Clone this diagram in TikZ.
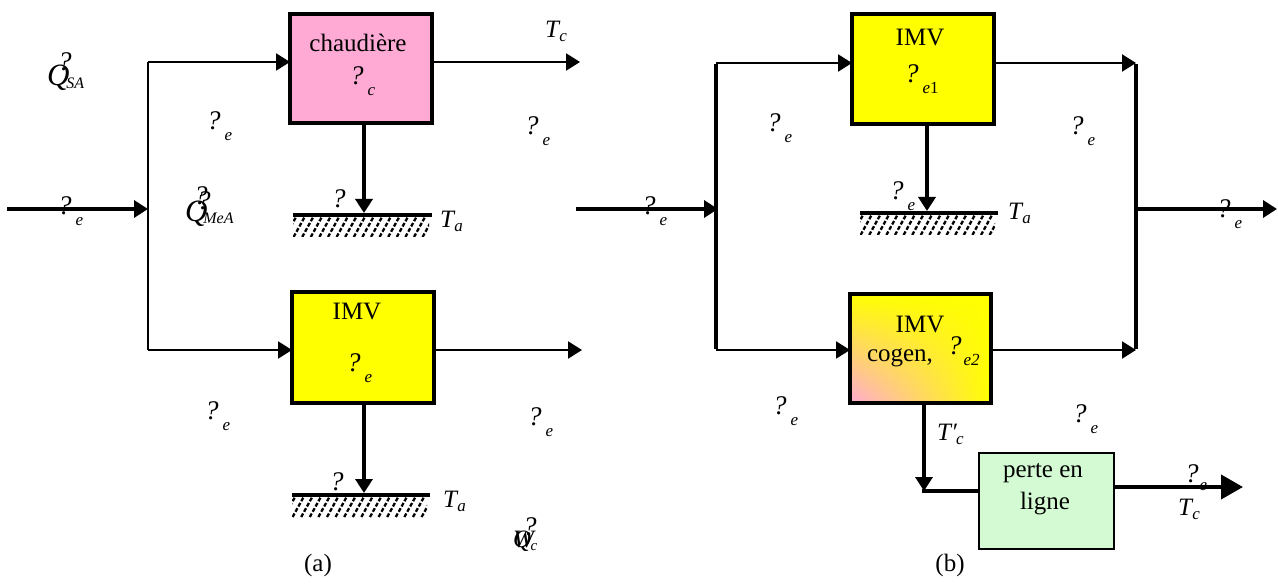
\documentclass[tikz,border=0pt]{standalone}
\usepackage{fontspec}
\setmainfont{Liberation Serif}
\usetikzlibrary{arrows.meta,shadings}
\definecolor{pinkc}{RGB}{255,170,212}
\definecolor{yelc}{RGB}{255,255,0}
\definecolor{greenc}{RGB}{212,250,212}
\newcommand{\qmk}{{\fontsize{27}{28}\selectfont\textit{?}}}
\newcommand{\qe}[1]{\qmk\kern4pt\raisebox{-11pt}{\fontsize{17}{17}\selectfont\textit{#1}}}
\newcommand{\subsz}{\fontsize{17}{17}\selectfont}
\newcommand{\groundhatch}[3]{%
  \draw[line width=4pt] (#1,#3) -- (#2,#3);
  \begin{scope}
    \clip (#1,#3+2) rectangle (#2-3,#3+22);
    \foreach \k in {0,...,17}{\draw[hatchline] ({#1+\k*8.6-8},{#3+22}) -- ++(11,-20);}
  \end{scope}}
\begin{document}
\begin{tikzpicture}[x=1pt,y=-1pt,font=\fontsize{25}{28}\selectfont,
  box/.style={draw,line width=4.5pt,inner sep=0pt,outer sep=0pt},
  lbl/.style={anchor=base west,inner sep=0pt,outer sep=0pt},
  ctr/.style={inner sep=0pt,outer sep=0pt},
  thickln/.style={line width=4pt},
  thinln/.style={line width=2.3pt},
  arr/.style={-{Triangle[length=14pt,width=17pt]}},
  bigarr/.style={-{Triangle[length=22pt,width=24pt]}},
  hatchline/.style={line width=2.3pt,dash pattern=on 4pt off 2pt}]
\useasboundingbox (0,0) rectangle (1278,585);

% ---------------- panel (a) ----------------
\node[box,fill=pinkc,minimum width=142pt,minimum height=109pt] (ch) at (361,68.5) {};
\node[box,fill=yelc,minimum width=142pt,minimum height=111pt] (imva) at (363,347.5) {};
\node[ctr] (cht) at (358,43) {chaudière};
\node[lbl] (chq) at (350,85) {\qe{c}};
\node[ctr] (imvat) at (357,312) {IMV};
\node[lbl] (imvaq) at (347,372) {\qe{e}};

\coordinate (ina) at (7,209);
\coordinate (ja) at (148,209);
\coordinate (jat) at (148,62);
\coordinate (jab) at (148,350);
\coordinate (outat) at (580,62);
\coordinate (outab) at (582,350);

\draw[thickln,arr] (ina) -- (ja);
\draw[thinln] (jat) -- (jab);
\draw[thinln,arr] (jat) -- (jat -| ch.west);
\draw[thinln,arr] (jab) -- (jab -| imva.west);
\draw[thinln,arr] (ch.east |- outat) -- (outat);
\draw[thinln,arr] (imva.east |- outab) -- (outab);

\groundhatch{293}{432}{215}
\coordinate (ga1) at (364,213);
\draw[thickln,arr] (ch.south -| ga1) -- (ga1);
\groundhatch{292}{430}{495}
\coordinate (ga2) at (364,493);
\draw[thickln,arr] (imva.south -| ga2) -- (ga2);

\node[lbl] (la1) at (58,215) {\qe{e}};
\node[lbl] (la2) at (207,130) {\qe{e}};
\node[lbl] (la3) at (525,135) {\qe{e}};
\node[lbl] (la4) at (205,420) {\qe{e}};
\node[lbl] (la5) at (528,425) {\qe{e}};
\node[lbl] (la6) at (332,208) {\qmk};
\node[lbl] (la7) at (330,490) {\qmk};
\node[lbl] (tca) at (545,38) {\textit{T}\kern-1pt\raisebox{-4pt}{\subsz\textit{c}}};
\node[lbl] (taa1) at (440,228) {\textit{T}\kern-1pt\raisebox{-4pt}{\subsz\textit{a}}};
\node[lbl] (taa2) at (443,507) {\textit{T}\kern-1pt\raisebox{-4pt}{\subsz\textit{a}}};
\node[lbl] (qsa) at (47,86) {\rlap{\kern11pt\raisebox{15pt}{\qmk}}{\fontsize{31}{31}\selectfont\textit{Q}}\kern-3pt\raisebox{-3pt}{\fontsize{16}{16}\selectfont\textit{SA}}};
\node[lbl] (qmea) at (185,222) {\rlap{\kern9pt\raisebox{17pt}{\qmk}}\rlap{\kern12pt\raisebox{12pt}{\qmk}}{\fontsize{31}{31}\selectfont\textit{Q}}\kern-4pt\raisebox{-2pt}{\fontsize{16}{16}\selectfont\textit{MeA}}};
\node[lbl] (wc) at (513,547) {\rlap{\kern10pt\raisebox{12pt}{\qmk}}\rlap{\textit{Q}}\textit{W}\kern-5pt\raisebox{-3pt}{\fontsize{15}{15}\selectfont\textit{c}}};
\node[ctr] (capa) at (318,565) {(a)};

% ---------------- panel (b) ----------------
\node[box,fill=yelc,minimum width=142pt,minimum height=110pt] (imv1) at (923,69) {};
\node[box,shade,upper left=yelc,upper right=yelc,lower right=yelc,lower left=pinkc,minimum width=141pt,minimum height=109pt] (cg) at (920.5,348.5) {};
\node[draw,line width=2pt,fill=greenc,minimum width=135pt,minimum height=96pt,inner sep=0pt,outer sep=0pt] (pl) at (1046.5,501) {};
\node[ctr] (imv1t) at (920,38) {IMV};
\node[lbl] (imv1q) at (905,83) {\qmk\kern4pt\raisebox{-11pt}{\subsz\textit{e}1}};
\node[ctr] (cgt1) at (920,325) {IMV};
\node[ctr] (cgt2) at (900,358) {cogen,};
\node[lbl] (cgq) at (948,355) {\qmk\kern2pt\raisebox{-11pt}{\subsz\textit{e2}}};
\node[ctr] (plt1) at (1043,473) {perte en};
\node[ctr] (plt2) at (1045,504) {ligne};

\coordinate (inb) at (576,209);
\coordinate (jb) at (718,209);
\coordinate (jbt) at (716,63);
\coordinate (jbb) at (716,350);
\coordinate (jrt) at (1136,63);
\coordinate (jrb) at (1136,350);
\coordinate (jr) at (1136,209);
\coordinate (outb) at (1277,209);
\coordinate (cgc) at (924,491);
\coordinate (outpl) at (1243,487);

\draw[thickln,arr] (inb) -- (jb);
\draw[thickln] ([yshift=-1pt]jbt) -- ([yshift=1pt]jbb);
\draw[thinln,arr] (jbt) -- (jbt -| imv1.west);
\draw[thinln,arr] (jbb) -- (jbb -| cg.west);
\draw[thinln,arr] (imv1.east |- jrt) -- (jrt);
\draw[thinln,arr] (cg.east |- jrb) -- (jrb);
\draw[thickln] ([yshift=-1pt]jrt) -- ([yshift=1pt]jrb);
\draw[thickln,arr] (jr) -- (outb);

\groundhatch{860}{998}{213}
\coordinate (gb) at (927,211);
\draw[thickln,arr] (imv1.south -| gb) -- (gb);

\draw[thickln,arr] (cg.south -| cgc) -- (cgc);
\draw[thickln] ([xshift=-2pt]cgc) -- (cgc -| pl.west);
\draw[thickln,bigarr] (pl.east |- outpl) -- (outpl);

\node[lbl] (lb1) at (642,215) {\qe{e}};
\node[lbl] (lb2) at (767,132) {\qe{e}};
\node[lbl] (lb3) at (890,200) {\qe{e}};
\node[lbl] (lb4) at (1070,135) {\qe{e}};
\node[lbl] (lb5) at (1217,218) {\qe{e}};
\node[lbl] (lb6) at (773,415) {\qe{e}};
\node[lbl] (lb7) at (1073,422) {\qe{e}};
\node[lbl] (lb8) at (1185,482) {\qmk\kern1pt\raisebox{-9pt}{\subsz\textit{e}}};
\node[lbl] (tcb) at (1178,515) {\textit{T}\kern-1pt\raisebox{-4pt}{\subsz\textit{c}}};
\node[lbl] (tpc) at (937,440) {\textit{T}\kern-1pt\textit{′}\kern-1pt\raisebox{-4pt}{\subsz\textit{c}}};
\node[lbl] (tab) at (1008,220) {\textit{T}\kern-1pt\raisebox{-4pt}{\subsz\textit{a}}};
\node[ctr] (capb) at (950,565) {(b)};
\end{tikzpicture}
\end{document}
